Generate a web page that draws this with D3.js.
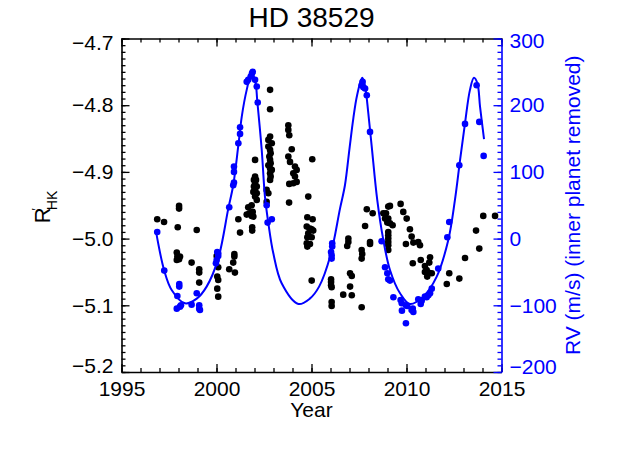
<!DOCTYPE html>
<html><head><meta charset="utf-8">
<script src="https://cdn.jsdelivr.net/npm/d3@7"></script>
<style>
body{margin:0;background:#fff;}
svg{display:block;font-family:"Liberation Sans",Arial,Helvetica,sans-serif;}
</style></head>
<body><svg id="c" width="623" height="450"></svg>
<script>
// ---- data ----
const xTicks = [1995, 2000, 2005, 2010, 2015];
const leftTicks = [-5.2, -5.1, -5.0, -4.9, -4.8, -4.7];
const rightTicks = [-200, -100, 0, 100, 200, 300];

const rhkYear = [1996.88,1997.24,1998.03,1998.03,1997.96,1998.96,1997.91,1997.94,1998.08,1998.03,1997.91,1998.69,1999.09,1999.09,1999.09,2000.01,2000.09,2000.04,2000.09,2000.04,2000.09,2000.67,2000.94,2000.94,2000.88,2000.97,2001.15,2001.24,2001.59,2001.73,2001.85,2001.67,2001.85,2001.91,2001.94,2001.88,2001.88,2001.97,2001.97,2002.03,2002.12,2002.03,2002.12,2001.94,2002.64,2002.73,2002.64,2002.82,2003.83,2004.04,2004.22,2003.82,2004.83,2004.75,2004.83,2004.78,2004.75,2004.78,2002.82,2002.82,2002.03,2002.03,2002.08,2002.03,2002.12,2002.73,2002.82,2002.91,2002.73,2002.82,2002.85,2002.78,2002.82,2002.85,2002.73,2002.82,2002.91,2002.82,2002.85,2003.78,2003.78,2003.83,2003.96,2003.78,2003.87,2004.13,2004.22,2004.04,2004.13,2005.04,2004.78,2005.06,2004.92,2005.01,2005.09,2005.01,2004.92,2005.01,2006.03,2006.03,2006.03,2006.06,2006.06,2006.06,2006.67,2006.94,2006.94,2006.88,2007.03,2007.12,2007.03,2007.12,2007.64,2007.67,2007.64,2007.64,2007.82,2007.91,2008.22,2008.08,2008.08,2008.78,2008.92,2009.04,2009.13,2008.87,2009.04,2008.99,2009.13,2009.27,2009.04,2009.04,2009.04,2009.04,2009.04,2009.04,2009.69,2009.83,2010.01,2010.18,2010.27,2010.36,2009.97,2010.62,2010.71,2010.33,2010.75,2011.24,2011.20,2010.97,2011.06,2010.97,2011.15,2011.33,2011.09,2012.25,2012.12,2012.78,2013.08,2013.66,2013.83,2014.04,2014.66];
const rhkValue = [-4.971,-4.975,-4.951,-4.955,-4.983,-4.987,-5.021,-5.027,-5.027,-5.031,-5.032,-5.036,-5.046,-5.051,-5.066,-5.026,-5.043,-5.057,-5.062,-5.075,-5.087,-5.046,-5.023,-5.027,-5.036,-5.051,-4.971,-4.991,-4.964,-4.962,-4.966,-4.953,-4.950,-4.960,-4.967,-4.983,-4.988,-4.912,-4.922,-4.927,-4.932,-4.937,-4.942,-4.930,-4.927,-4.932,-4.945,-4.912,-4.918,-4.917,-4.915,-4.946,-4.937,-4.982,-4.992,-4.998,-5.007,-5.012,-4.777,-4.806,-4.882,-4.907,-4.912,-4.917,-4.922,-4.852,-4.847,-4.857,-4.862,-4.867,-4.872,-4.877,-4.882,-4.887,-4.890,-4.895,-4.897,-4.902,-4.907,-4.830,-4.837,-4.845,-4.866,-4.877,-4.885,-4.892,-4.897,-4.902,-4.907,-4.881,-4.968,-4.971,-4.985,-4.986,-4.988,-4.998,-5.008,-5.063,-5.061,-5.065,-5.070,-5.073,-5.095,-5.101,-5.084,-5.000,-5.005,-5.011,-5.052,-5.056,-5.072,-5.085,-5.017,-5.023,-5.030,-5.103,-4.981,-4.956,-4.962,-5.005,-5.008,-4.962,-4.962,-4.952,-4.951,-4.970,-4.970,-4.976,-4.977,-4.980,-4.990,-4.995,-5.000,-5.005,-5.010,-5.017,-4.948,-4.960,-4.970,-4.986,-4.997,-5.006,-5.008,-5.005,-5.010,-5.037,-5.032,-5.028,-5.036,-5.041,-5.047,-5.050,-5.051,-5.052,-5.057,-5.052,-5.068,-5.060,-5.029,-4.988,-5.015,-4.966,-4.966];

const rvYear = [1996.88,1997.25,1998.04,1998.04,1997.94,1997.91,1998.08,1998.13,1998.69,1998.96,1999.09,1999.09,1999.13,2000.04,2000.09,2000.09,2000.01,1999.97,2000.67,2000.88,2000.92,2000.92,2000.92,2001.15,2001.24,2001.24,2001.59,2001.67,2001.80,2001.91,2001.87,2002.03,2002.12,2002.17,2002.64,2002.69,2002.91,2007.64,2007.69,2007.73,2007.82,2007.91,2008.08,2013.69,2013.08,2013.83,2012.78,2014.06,2006.09,2006.09,2006.03,2006.06,2006.06,2008.69,2008.87,2008.99,2009.04,2009.13,2009.31,2009.69,2009.75,2009.76,2009.97,2010.04,2009.97,2010.27,2010.36,2010.33,2010.62,2010.75,2010.80,2010.97,2011.06,2011.15,2011.24,2011.33,2011.67,2012.15,2012.25];
const rvValue = [10,-48,-68,-72,-86,-105,-102,-100,-99,-82,-100,-105,-107,-20,-22,-26,-32,-37,47,80,84,100,108,143,157,167,235,238,243,250,248,238,228,204,50,24,29,230,235,227,225,215,160,230,172,175,110,124,-7,-12,-20,-25,-30,-4,-43,-52,-61,-63,-88,-92,-97,-108,-100,-101,-127,-107,-110,-105,-91,-98,-93,-87,-88,-85,-82,-75,-45,2,25];

const fitYear = [1996.82,1997.25,1997.64,1998.34,1998.96,1999.48,2000.09,2000.62,2000.88,2001.15,2001.33,2001.59,2001.85,2002.03,2002.15,2002.38,2002.55,2002.73,2002.99,2003.43,2004.31,2004.91,2005.40,2006.00,2006.50,2006.76,2007.00,2007.20,2007.40,2007.67,2007.82,2007.99,2008.17,2008.46,2008.78,2009.13,2009.66,2010.18,2010.88,2011.59,2012.20,2012.55,2012.82,2013.08,2013.34,2013.55,2013.73,2013.87,2014.08];
const fitRV = [10,-48,-77,-97,-90,-72,-30,45,80,140,183,223,248,238,205,133,63,23,-22,-67,-98,-90,-72,-25,45,80,135,180,215,241,228,188,138,58,-2,-47,-82,-98,-87,-57,-2,58,118,173,223,241,233,198,149];

// ---- drawing ----
const svg = d3.select("#c");
svg.append("rect").attr("width",623).attr("height",450).attr("fill","#fff");
const L=121.5, R=501.5, T=38.5, B=372;
const blue = "#0000ff";
const x = d3.scaleLinear().domain([1995,2015]).range([L,R]);
const yL = d3.scaleLinear().domain([-5.2,-4.7]).range([B,T]);
const yR = d3.scaleLinear().domain([-200,300]).range([B,T]);

const fs = 21;
const minor = (a,b,s)=>d3.range(Math.round((b-a)/s)+1).map(i=>+(a+i*s).toFixed(4));

function styleAxis(g,color,showDomain){
  g.selectAll("path.domain").attr("stroke",color).attr("stroke-width",1.6).attr("display",showDomain?null:"none");
  g.selectAll("line").attr("stroke",color).attr("stroke-width",1.3);
  g.selectAll("text").attr("fill",color).style("font-size",fs+"px");
}
// bottom
let g = svg.append("g").attr("transform",`translate(0,${B})`)
  .call(d3.axisBottom(x).tickValues(minor(1995,2015,1)).tickSize(-4).tickSizeOuter(0).tickFormat(""));
styleAxis(g,"#000",true);
g = svg.append("g").attr("transform",`translate(0,${B})`)
  .call(d3.axisBottom(x).tickValues(xTicks).tickSize(-8).tickSizeOuter(0).tickPadding(9).tickFormat(d3.format("d")));
styleAxis(g,"#000",false);
// top
g = svg.append("g").attr("transform",`translate(0,${T})`)
  .call(d3.axisTop(x).tickValues(minor(1995,2015,1)).tickSize(-4).tickSizeOuter(0).tickFormat(""));
styleAxis(g,"#000",true);
g = svg.append("g").attr("transform",`translate(0,${T})`)
  .call(d3.axisTop(x).tickValues(xTicks).tickSize(-8).tickSizeOuter(0).tickFormat(""));
styleAxis(g,"#000",false);
// left
g = svg.append("g").attr("transform",`translate(${L},0)`)
  .call(d3.axisLeft(yL).tickValues(minor(-5.2,-4.7,0.01)).tickSize(-4).tickSizeOuter(0).tickFormat(""));
styleAxis(g,"#000",true);
g = svg.append("g").attr("transform",`translate(${L},0)`)
  .call(d3.axisLeft(yL).tickValues(leftTicks).tickSize(-8).tickSizeOuter(0).tickPadding(8).tickFormat(d3.format(".1f")));
styleAxis(g,"#000",false);
g.selectAll(".tick text").attr("y",d=> d===-5.2 ? -6 : (d===-4.7 ? 4 : 0));
// right
g = svg.append("g").attr("transform",`translate(${R},0)`)
  .call(d3.axisRight(yR).tickValues(minor(-200,300,10)).tickSize(-4).tickSizeOuter(0).tickFormat(""));
styleAxis(g,blue,true);
g = svg.append("g").attr("transform",`translate(${R},0)`)
  .call(d3.axisRight(yR).tickValues(rightTicks).tickSize(-8).tickSizeOuter(0).tickPadding(8).tickFormat(d3.format("d")));
styleAxis(g,blue,false);
g.selectAll(".tick text").attr("y",d=> d===-200 ? -5 : (d===300 ? 2 : 0));

// black R'HK points
svg.append("g").selectAll("circle").data(rhkYear.map((d,i)=>[d,rhkValue[i]])).join("circle")
  .attr("cx",d=>x(d[0])).attr("cy",d=>yL(d[1])).attr("r",3.3).attr("fill","#000");
// fit curve
svg.append("path").datum(fitYear.map((d,i)=>[d,fitRV[i]]))
  .attr("d",d3.line().x(d=>x(d[0])).y(d=>yR(d[1])).curve(d3.curveCatmullRom.alpha(0.5)))
  .attr("fill","none").attr("stroke",blue).attr("stroke-width",2);
// blue RV points
svg.append("g").selectAll("circle").data(rvYear.map((d,i)=>[d,rvValue[i]])).join("circle")
  .attr("cx",d=>x(d[0])).attr("cy",d=>yR(d[1])).attr("r",3.3).attr("fill",blue);

// titles
svg.append("text").attr("x",(L+R)/2).attr("y",27).attr("text-anchor","middle")
  .style("font-size","28px").attr("fill","#000").text("HD 38529");
svg.append("text").attr("x",(L+R)/2).attr("y",417).attr("text-anchor","middle")
  .style("font-size",fs+"px").attr("fill","#000").text("Year");
svg.append("text").attr("transform",`translate(580,${(T+B)/2}) rotate(-90)`).attr("text-anchor","middle")
  .style("font-size",fs+"px").attr("fill",blue).text("RV (m/s) (inner planet removed)");
const lt = svg.append("text").attr("transform",`translate(50,207) rotate(-90)`).attr("text-anchor","middle")
  .style("font-size","22px").attr("fill","#000");
lt.append("tspan").text("R");
lt.append("tspan").attr("dy",-9).attr("dx",-3).style("font-size","12px").text("′");
lt.append("tspan").attr("dy",16).attr("dx",-2).style("font-size","14px").text("HK");
</script></body></html>
